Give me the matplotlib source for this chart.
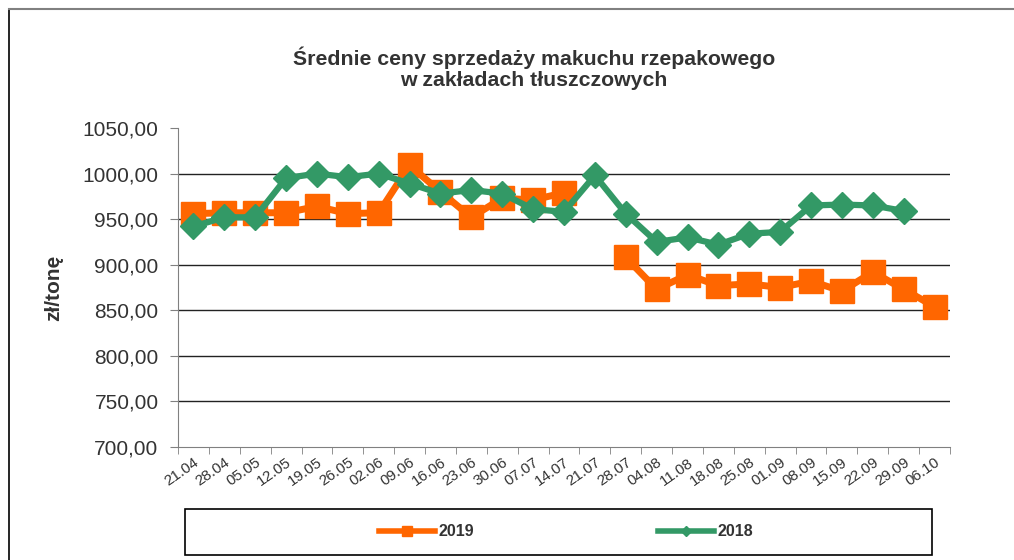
import numpy as np
import matplotlib.pyplot as plt
from matplotlib.patches import Rectangle
from matplotlib.lines import Line2D

plt.rcParams['font.family'] = ['Liberation Sans', 'DejaVu Sans']

dates = ['21.04', '28.04', '05.05', '12.05', '19.05', '26.05', '02.06', '09.06',
         '16.06', '23.06', '30.06', '07.07', '14.07', '21.07', '28.07', '04.08',
         '11.08', '18.08', '25.08', '01.09', '08.09', '15.09', '22.09', '29.09',
         '06.10']
y2019 = [956, 957, 957, 957, 964, 956, 957, 1009, 980, 952, 973, 971, 979, np.nan,
         908, 873, 889, 877, 879, 875, 882, 871, 892, 873, 854]
y2018 = [942, 952, 952, 995, 1000, 996, 1000, 989, 978, 982, 978, 961, 958, 998,
         956, 925, 930, 922, 934, 936, 965, 966, 965, 959, np.nan]

orange = '#ff6600'
green = '#339966'
txt = '#333333'

fig = plt.figure(figsize=(10.14, 5.6), dpi=100)
ax = fig.add_axes([178/1014, 1 - 447/560, (950-178)/1014, (447-128)/560])

x = np.arange(len(dates))
ax.plot(x, y2019, color=orange, lw=5, marker='s', ms=17, mec=orange, zorder=3)
ax.plot(x, y2018, color=green, lw=4.5, marker='D', ms=13, mec=green, zorder=4)

ax.set_xlim(-0.5, len(dates) - 0.5)
ax.set_ylim(700, 1050)
ax.set_yticks(np.arange(700, 1051, 50))
ax.set_yticklabels(['{:.2f}'.format(v).replace('.', ',') for v in np.arange(700, 1051, 50)],
                   fontsize=15, color=txt)
for v in range(750, 1001, 50):
    ax.axhline(v, color='#222222', lw=1, zorder=1)

ax.set_xticks(x)
ax.set_xticklabels(dates, rotation=35, ha='right', rotation_mode='anchor',
                   fontsize=11, color=txt)
ax.set_xticks(np.arange(-0.5, len(dates), 1), minor=True)
ax.tick_params(axis='x', which='major', length=0, pad=6)
ax.tick_params(axis='x', which='minor', length=5, color='#808080')
ax.tick_params(axis='y', length=6, color='#808080', pad=8)

for s in ['top', 'right']:
    ax.spines[s].set_visible(False)
ax.spines['left'].set_color('#808080')
ax.spines['bottom'].set_color('#808080')

ax.set_ylabel('zł/tonę', fontsize=15, fontweight='bold', color=txt, labelpad=14)

fig.text(534/1014, 1 - 68/560, 'Średnie ceny sprzedaży makuchu rzepakowego\nw zakładach tłuszczowych',
         ha='center', va='center', fontsize=15.3, fontweight='bold', color=txt,
         linespacing=1.15)

# outer border
fig.add_artist(Line2D([9/1014, 9/1014], [0, 1 - 9/560], transform=fig.transFigure,
                      color='black', lw=1.2))
fig.add_artist(Line2D([9/1014, 1], [1 - 9/560, 1 - 9/560], transform=fig.transFigure,
                      color='#808080', lw=1.5))

# legend frame
fig.add_artist(Rectangle((185/1014, 1 - 555/560), (932-185)/1014, (555-509)/560,
                         transform=fig.transFigure, fill=False, ec='black', lw=1.2))
h1 = Line2D([], [], color=orange, lw=4, marker='s', ms=7, mec=orange)
h2 = Line2D([], [], color=green, lw=4, marker='D', ms=5, mec=green)
leg = fig.legend([h1, h2], ['2019', '2018'], loc='center',
                 bbox_to_anchor=(566/1014, 1 - 532/560), ncol=2, frameon=False,
                 handlelength=3.5, handletextpad=0.25, columnspacing=11.5,
                 prop={'size': 11.5, 'weight': 'bold'})
for t in leg.get_texts():
    t.set_color(txt)

fig.savefig('out.png', dpi=100)
